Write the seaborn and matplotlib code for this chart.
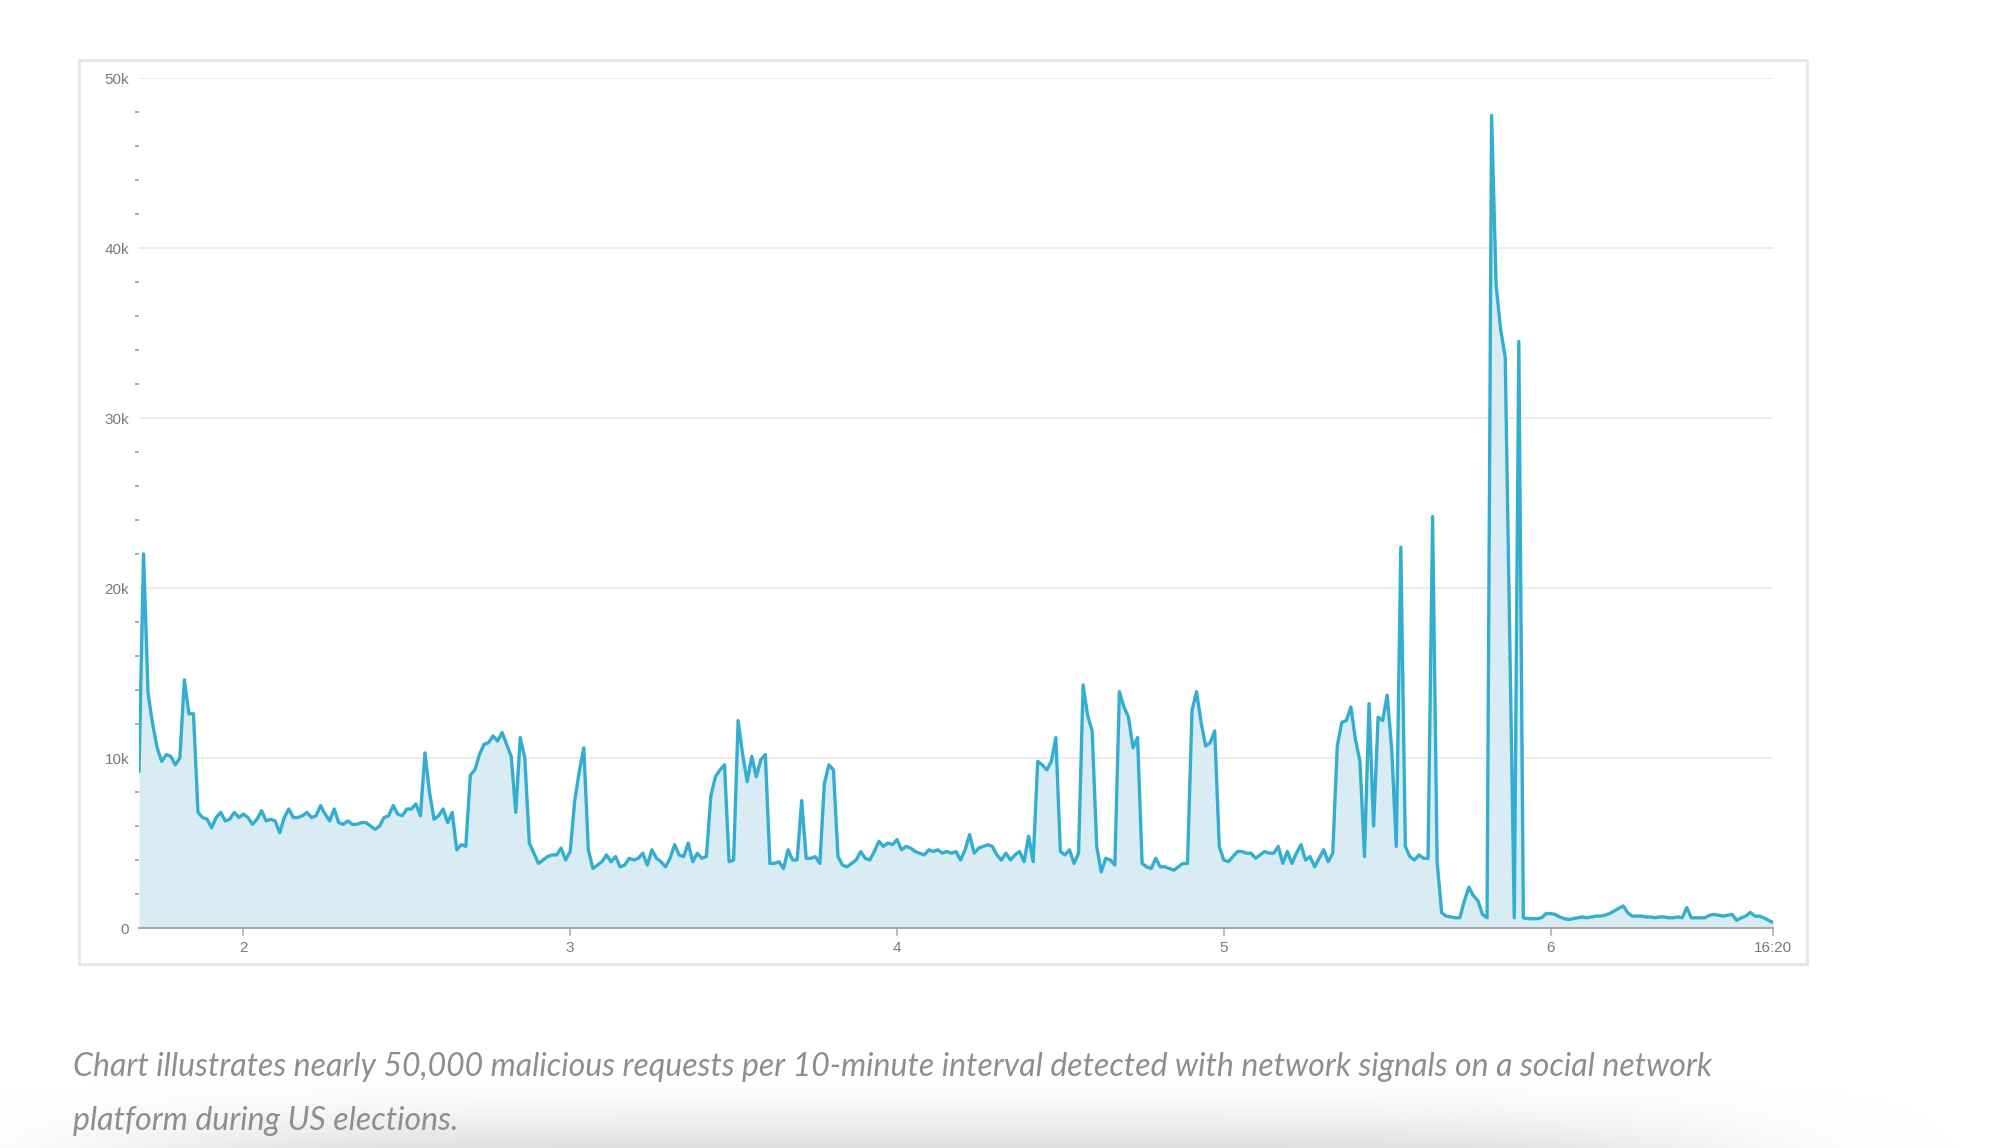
import numpy as np
import pandas as pd
import matplotlib
matplotlib.use("Agg")
import matplotlib.pyplot as plt
from matplotlib.patches import Rectangle
from matplotlib.ticker import MultipleLocator
import seaborn as sns

# --- DATA: malicious requests per 20-minute step, in thousands ---
# Nov 1 16:20 -> Nov 6 16:20
day1 = [9.2, 22.0, 13.8, 12.0, 10.6, 9.8, 10.2, 10.1, 9.6, 10.0, 14.6, 12.6, 12.6, 6.8,
        6.5, 6.4, 5.9, 6.5, 6.8, 6.3, 6.4, 6.8, 6.5]
day2 = [6.7, 6.5, 6.1, 6.4, 6.9, 6.3, 6.4, 6.3, 5.6, 6.5,
        7.0, 6.5, 6.5, 6.6, 6.8, 6.5, 6.6, 7.2, 6.7, 6.3,
        7.0, 6.2, 6.1, 6.3, 6.1, 6.1, 6.2, 6.2, 6.0, 5.8,
        6.0, 6.5, 6.6, 7.2, 6.7, 6.6, 7.0, 7.0, 7.3, 6.6,
        10.3, 8.0, 6.4, 6.6, 7.0, 6.2, 6.8, 4.6, 4.9, 4.8,
        9.0, 9.3, 10.2, 10.8, 10.9, 11.3, 11.0, 11.5, 10.8, 10.1,
        6.8, 11.2, 10.0, 5.0, 4.4, 3.8, 4.0, 4.2, 4.3, 4.3,
        4.7, 4.0]
day3 = [4.5, 7.5, 9.2, 10.6, 4.6, 3.5, 3.7, 3.9, 4.3, 3.9,
        4.2, 3.6, 3.7, 4.1, 4.0, 4.1, 4.4, 3.7, 4.6, 4.1,
        3.9, 3.6, 4.1, 4.9, 4.3, 4.2, 5.0, 3.9, 4.4, 4.1,
        4.2, 7.8, 8.9, 9.3, 9.6, 3.9, 4.0, 12.2, 10.2, 8.6,
        10.1, 8.9, 9.9, 10.2, 3.8, 3.8, 3.9, 3.5, 4.6, 4.0,
        4.0, 7.5, 4.1, 4.1, 4.2, 3.8, 8.5, 9.6, 9.3, 4.2,
        3.7, 3.6, 3.8, 4.0, 4.5, 4.1, 4.0, 4.5, 5.1, 4.8,
        5.0, 4.9]
day4 = [5.2, 4.6, 4.8, 4.7, 4.5, 4.4, 4.3, 4.6, 4.5, 4.6,
        4.4, 4.5, 4.4, 4.5, 4.0, 4.6, 5.5, 4.4, 4.7, 4.8,
        4.9, 4.8, 4.3, 4.0, 4.4, 4.0, 4.3, 4.5, 3.9, 5.4,
        3.9, 9.8, 9.6, 9.3, 9.8, 11.2, 4.5, 4.3, 4.6, 3.8,
        4.4, 14.3, 12.5, 11.6, 4.8, 3.3, 4.1, 4.0, 3.7, 13.9,
        13.0, 12.4, 10.6, 11.2, 3.8, 3.6, 3.5, 4.1, 3.6, 3.6,
        3.5, 3.4, 3.6, 3.8, 3.8, 12.8, 13.9, 12.1, 10.7, 10.9,
        11.6, 4.8]
day5 = [4.0, 3.9, 4.2, 4.5, 4.5, 4.4, 4.4, 4.1, 4.3, 4.5,
        4.4, 4.4, 4.8, 3.8, 4.5, 3.8, 4.4, 4.9, 4.0, 4.2,
        3.6, 4.1, 4.6, 3.9, 4.4, 10.7, 12.1, 12.2, 13.0, 11.1,
        9.8, 4.2, 13.2, 6.0, 12.4, 12.2, 13.7, 10.5, 4.8, 22.4,
        4.8, 4.2, 4.0, 4.3, 4.1, 4.1, 24.2, 3.9, 0.9, 0.7,
        0.65, 0.6, 0.6, 1.6, 2.4, 1.9, 1.6, 0.8, 0.6, 47.8,
        37.8, 35.2, 33.6, 17.0, 0.6, 34.5, 0.6, 0.55, 0.55, 0.55,
        0.6, 0.85]
day6 = [0.85, 0.8, 0.65, 0.55, 0.5, 0.55, 0.6, 0.65, 0.6, 0.65,
        0.7, 0.7, 0.75, 0.85, 1.0, 1.15, 1.3, 0.9, 0.7, 0.7,
        0.7, 0.65, 0.65, 0.6, 0.65, 0.65, 0.6, 0.6, 0.65, 0.6,
        1.2, 0.6, 0.6, 0.6, 0.6, 0.75, 0.8, 0.75, 0.7, 0.75,
        0.8, 0.45, 0.6, 0.7, 0.92, 0.7, 0.7, 0.6, 0.45, 0.33]

x_labels = ["2", "3", "4", "5", "6", "16:20"]
y_ticks = [0, 10000, 20000, 30000, 40000, 50000]
y_labels = ["0", "10k", "20k", "30k", "40k", "50k"]
caption = ["Chart illustrates nearly 50,000 malicious requests per 10-minute interval "
           "detected with network signals on a social network",
           "platform during US elections."]

requests_k = day1 + day2 + day3 + day4 + day5 + day6
times = pd.date_range("2020-11-01 16:20", periods=len(requests_k), freq="20min")
df = pd.DataFrame({"time": times, "requests": np.array(requests_k) * 1000})

# --- STYLE ---
LINE = "#33aed0"
FILL = "#d6ebf2"
TXT = "#7a7a7a"
W, H = 2002, 1148

sns.set_theme(style="white")
plt.rcParams["font.family"] = ["Liberation Sans", "DejaVu Sans"]

fig = plt.figure(figsize=(W / 100, H / 100), dpi=100)
fig.patch.set_facecolor("white")

# outer frame of the chart panel
fig.add_artist(Rectangle((79 / W, (H - 964) / H), (1807 - 79) / W, (964 - 60) / H,
                         transform=fig.transFigure, fill=False, ec="#e6e6e6", lw=2))

ax = fig.add_axes([139 / W, (H - 928) / H, (1773 - 139) / W, 850 / H])
ax.set_facecolor("none")
ax.set_axisbelow(True)
ax.yaxis.grid(True, color="#ebebeb", lw=1.3)

ax.fill_between(df["time"], df["requests"], color=FILL, lw=0, alpha=0.92, zorder=1)
sns.lineplot(data=df, x="time", y="requests", ax=ax, color=LINE, lw=2.4, zorder=2)

ax.set_xlim(times[0], times[-1])
ax.set_ylim(0, 50000)
ax.set_xlabel("")
ax.set_ylabel("")

x_ticks = list(pd.date_range("2020-11-02", "2020-11-06", freq="D")) + [times[-1]]
ax.set_xticks(x_ticks)
ax.set_xticklabels(x_labels)
ax.set_yticks(y_ticks)
ax.set_yticklabels(y_labels)
ax.yaxis.set_minor_locator(MultipleLocator(2000))

ax.tick_params(axis="x", which="major", bottom=True, length=6, width=1.2, color="#b0b0b0",
               labelsize=11, labelcolor=TXT, pad=3)
ax.tick_params(axis="y", which="major", left=False, length=0, labelsize=11,
               labelcolor=TXT, pad=7)
ax.tick_params(axis="y", which="minor", left=True, length=3, width=1.2, color="#a0a0a0")

for s in ["left", "top", "right"]:
    ax.spines[s].set_visible(False)
ax.spines["bottom"].set_color("#a8a8a8")
ax.spines["bottom"].set_linewidth(1.5)

# soft shadow under the caption
sax = fig.add_axes([0, 0, 1, 75 / H], zorder=-1)
gx = np.linspace(0, 1, 500)
gy = np.linspace(0, 1, 60)
hfac = np.exp(-((gx - 0.46) / 0.40) ** 6)
vfac = gy ** 1.6
alpha = 0.55 * vfac[:, None] * hfac[None, :]
img = np.zeros((60, 500, 4))
img[..., :3] = 0.78
img[..., 3] = alpha
sax.imshow(img, aspect="auto", extent=[0, 1, 1, 0])
sax.set_xlim(0, 1)
sax.set_ylim(1, 0)
sax.axis("off")

# caption
cap_font = dict(family=["Lato", "DejaVu Sans"], style="italic", color="#8e8e8e",
                fontsize=23, va="center", ha="left")
fig.text(73 / W, (H - 1067) / H, caption[0], **cap_font)
fig.text(73 / W, (H - 1121) / H, caption[1], **cap_font)

fig.savefig("out.png", dpi=100, facecolor="white")
